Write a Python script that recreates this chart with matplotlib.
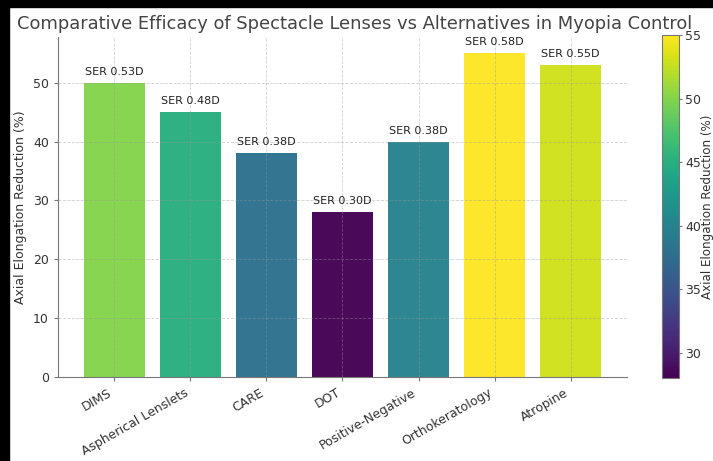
import numpy as np
import matplotlib
matplotlib.use("Agg")
import matplotlib.pyplot as plt
from matplotlib.patches import Rectangle
from matplotlib.colors import Normalize

# data
treatments = ["DIMS", "Aspherical Lenslets", "CARE", "DOT",
              "Positive-Negative", "Orthokeratology", "Atropine"]
reduction = [50, 45, 38, 28, 40, 55, 53]
ser_labels = ["SER 0.53D", "SER 0.48D", "SER 0.38D", "SER 0.30D",
              "SER 0.38D", "SER 0.58D", "SER 0.55D"]
cbar_ticks = [30, 35, 40, 45, 50, 55]

plt.rcParams['font.family'] = ['DejaVu Sans']
text_col = '#333333'
spine_col = '#777777'

fig = plt.figure(figsize=(7.13, 4.61), dpi=100)
ax = fig.add_axes([0.0813, 0.1822, 0.798, 0.7375])
cax = fig.add_axes([0.9285, 0.18, 0.0238, 0.744])

norm = Normalize(vmin=min(reduction), vmax=max(reduction))
cmap = plt.get_cmap('viridis')
colors = cmap(norm(reduction))

x = np.arange(len(treatments))
ax.bar(x, reduction, width=0.8, color=colors, alpha=0.97)

for xi, val, lab in zip(x, reduction, ser_labels):
    ax.text(xi, val + 1, lab, ha='center', va='bottom', fontsize=8, color='#222222')

ax.set_xticks(x)
ax.set_xticklabels(treatments, rotation=30, ha='right', fontsize=9, color=text_col)
ax.set_yticks([0, 10, 20, 30, 40, 50])
ax.tick_params(axis='y', labelsize=9, labelcolor=text_col, color=spine_col, length=3)
ax.tick_params(axis='x', color=spine_col, length=3)
ax.set_ylabel("Axial Elongation Reduction (%)", fontsize=9, color=text_col)
ax.set_axisbelow(False)
ax.grid(True, linestyle='--', color='#999999', linewidth=0.6, alpha=0.45)
for side in ['top', 'right']:
    ax.spines[side].set_visible(False)
for side in ['left', 'bottom']:
    ax.spines[side].set_color(spine_col)

sm = plt.cm.ScalarMappable(norm=norm, cmap=cmap)
cb = fig.colorbar(sm, cax=cax)
cb.set_ticks(cbar_ticks)
cb.ax.tick_params(labelsize=9, labelcolor=text_col, color=spine_col, length=2, pad=2.5)
cb.outline.set_edgecolor(spine_col)
cb.set_label("Axial Elongation Reduction (%)", fontsize=8.6, color=text_col, labelpad=-0.5)

fig.text(0.497, 0.948, "Comparative Efficacy of Spectacle Lenses vs Alternatives in Myopia Control",
         ha='center', va='center', fontsize=12.9, color='#444444')

# black screenshot frame on the left and top edges
fig.patches.append(Rectangle((0, 0), 9 / 713, 1, transform=fig.transFigure,
                             color='black', zorder=10))
fig.patches.append(Rectangle((0, 1 - 7 / 461), 1, 7 / 461, transform=fig.transFigure,
                             color='black', zorder=10))

fig.savefig("out.png", dpi=100)
